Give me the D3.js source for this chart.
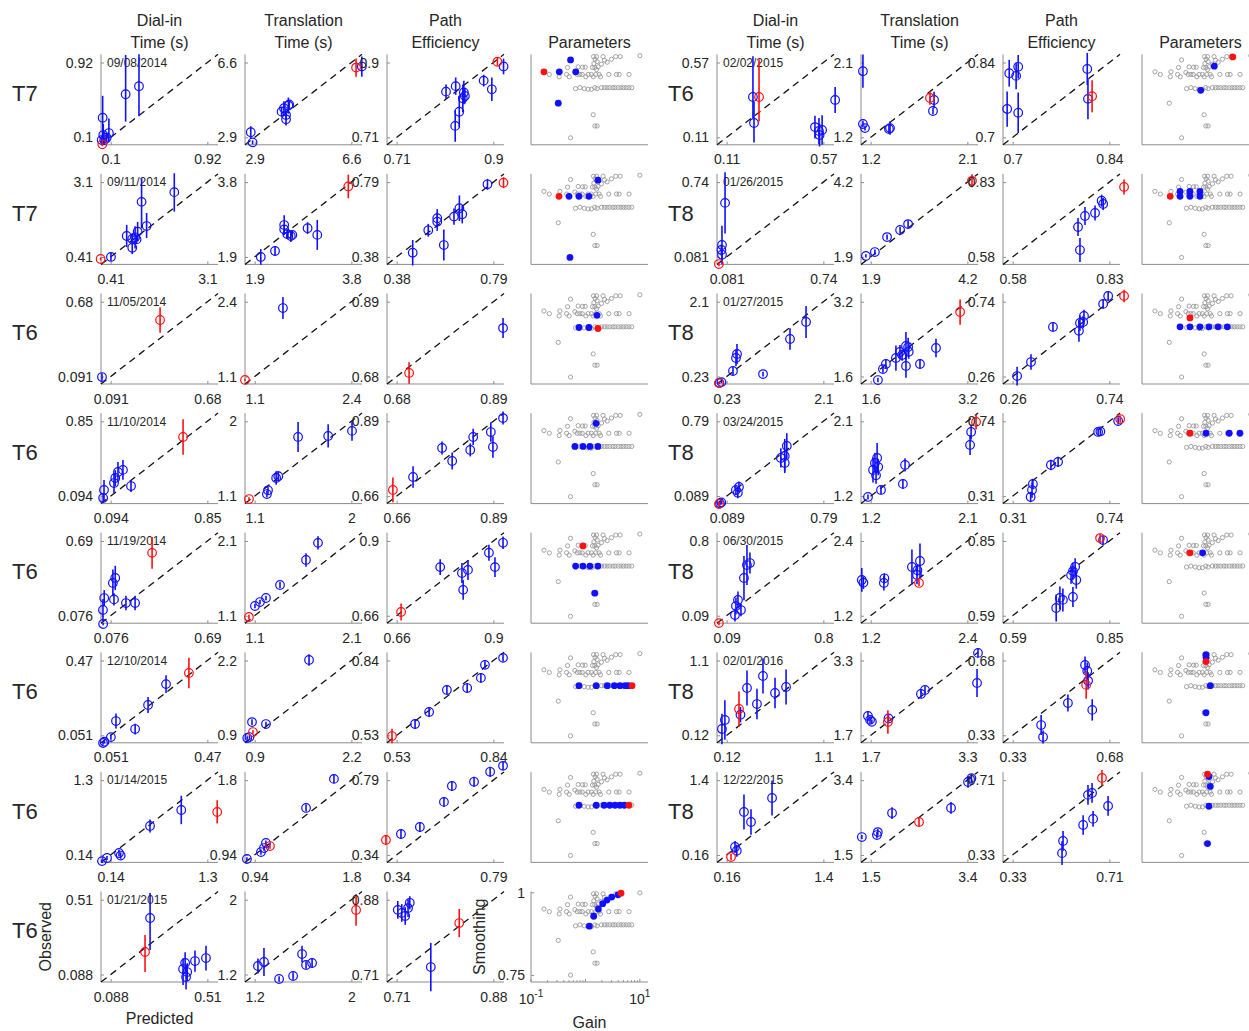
<!DOCTYPE html>
<html>
<head>
<meta charset="utf-8">
<script src="https://cdn.jsdelivr.net/npm/d3@7"></script>
<style>
  body { margin: 0; background: #fff; }
  text { font-family: "Liberation Sans", Arial, Helvetica, sans-serif; fill: #262626; }
</style>
</head>
<body>
<svg id="chart" width="1249" height="1031"></svg>
<script>
// ---------------- sessions ----------------
const leftSubjects  = ["T7", "T7", "T6", "T6", "T6", "T6", "T6", "T6"];
const leftDates     = ["09/08/2014", "09/11/2014", "11/05/2014", "11/10/2014", "11/19/2014", "12/10/2014", "01/14/2015", "01/21/2015"];
const rightSubjects = ["T6", "T8", "T8", "T8", "T8", "T8", "T8"];
const rightDates    = ["02/02/2015", "01/26/2015", "01/27/2015", "03/24/2015", "06/30/2015", "02/01/2016", "12/22/2015"];

const columnTitles = [["Dial-in", "Time (s)"], ["Translation", "Time (s)"], ["Path", "Efficiency"], ["Parameters"]];

// ---------------- tick labels (min, max) per panel ----------------
const dialInTicksLeft       = [[0.1, 0.92], [0.41, 3.1], [0.091, 0.68], [0.094, 0.85], [0.076, 0.69], [0.051, 0.47], [0.14, 1.3], [0.088, 0.51]];
const translationTicksLeft  = [[2.9, 6.6], [1.9, 3.8], [1.1, 2.4], [1.1, 2], [1.1, 2.1], [0.9, 2.2], [0.94, 1.8], [1.2, 2]];
const pathTicksLeft         = [[0.71, 0.9], [0.38, 0.79], [0.68, 0.89], [0.66, 0.89], [0.66, 0.9], [0.53, 0.84], [0.34, 0.79], [0.71, 0.88]];
const dialInTicksRight      = [[0.11, 0.57], [0.081, 0.74], [0.23, 2.1], [0.089, 0.79], [0.09, 0.8], [0.12, 1.1], [0.16, 1.4]];
const translationTicksRight = [[1.2, 2.1], [1.9, 4.2], [1.6, 3.2], [1.2, 2.1], [1.2, 2.4], [1.7, 3.3], [1.5, 3.4]];
const pathTicksRight        = [[0.7, 0.84], [0.58, 0.83], [0.26, 0.74], [0.31, 0.74], [0.59, 0.85], [0.33, 0.68], [0.33, 0.71]];

const gainTicks = [0.1, 10];
const smoothingTicks = [0.75, 1];

// ---------------- observed vs predicted ----------------
// each point: [predicted, observed, error below, error above, tested setting (1)]
const dialInLeft = [
  [[0.029,0.023,0.02,0.02,1],[0.032,0.315,0.24,0.24],[0.227,0.572,0.30,0.43],[0.34,0.66,0.33,0.35],[0.037,0.125,0.09,0.12],[0.046,0.07,0.03,0.03],[0.085,0.147,0.10,0.16],[0.066,0.096,0.04,0.04],[0.024,0.07,0.03,0.03]],
  [[0.13,0.335,0.05,0.05,1],[0.418,0.41,0.14,0.14],[0.856,1.163,0.4,0.4],[1.01,1.055,0.2,0.2],[1.01,0.74,0.23,0.23],[1.09,1.115,0.4,0.4],[1.16,1.32,0.35,0.35],[1.13,1.04,0.15,0.15],[1.27,2.39,0.95,0.85],[1.41,1.52,0.43,0.47],[2.18,2.74,0.7,0.68]],
  [[0.038,0.087,0.03,0.03],[0.392,0.536,0.1,0.1,1]],
  [[0.042,0.156,0.1,0.1],[0.035,0.075,0.04,0.04],[0.12,0.226,0.1,0.1],[0.13,0.277,0.08,0.08],[0.151,0.338,0.1,0.1],[0.19,0.359,0.1,0.1],[0.253,0.196,0.06,0.06],[0.66,0.692,0.18,0.18,1]],
  [[0.027,0.123,0.09,0.09],[0.035,0.221,0.065,0.065],[0.09,0.345,0.11,0.11],[0.105,0.386,0.1,0.1],[0.097,0.21,0.05,0.05],[0.173,0.18,0.06,0.06],[0.231,0.18,0.06,0.06],[0.028,0.008,0.01,0.01],[0.339,0.592,0.13,0.13,1]],
  [[0.018,0.008,0.01,0.01],[0.024,0.015,0.01,0.01],[0.052,0.041,0.015,0.015],[0.074,0.131,0.042,0.042],[0.157,0.086,0.03,0.03],[0.213,0.221,0.045,0.045],[0.291,0.338,0.05,0.05],[0.39,0.4,0.085,0.085,1]],
  [[0.036,0.044,0.03,0.03],[0.096,0.092,0.03,0.03],[0.24,0.17,0.05,0.05],[0.26,0.13,0.05,0.05],[0.612,0.589,0.1,0.1],[0.987,0.837,0.22,0.22],[1.418,0.806,0.18,0.18,1]],
  [[0.238,0.215,0.113,0.096,1],[0.26,0.407,0.181,0.141],[0.404,0.119,0.09,0.06],[0.413,0.153,0.06,0.06],[0.417,0.074,0.07,0.07],[0.422,0.102,0.05,0.05],[0.456,0.164,0.06,0.06],[0.504,0.181,0.07,0.07]]
];
const translationLeft = [
  [[2.75,3.15,0.3,0.3],[2.82,2.65,0.1,0.1],[3.93,4.17,0.25,0.25],[4.02,4.34,0.35,0.35],[4.10,4.00,0.2,0.2],[4.10,3.79,0.3,0.3],[4.19,4.47,0.4,0.4],[4.22,4.53,0.2,0.2],[6.78,6.35,0.45,0.45,1],[7.0,6.4,0.5,0.5]],
  [[2.02,1.9,0.2,0.2],[2.3,2.05,0.12,0.12],[2.48,2.71,0.25,0.25],[2.48,2.60,0.1,0.1],[2.54,2.48,0.12,0.12],[2.61,2.43,0.15,0.15],[2.64,2.46,0.1,0.1],[2.94,2.63,0.15,0.15],[3.13,2.46,0.38,0.38],[3.74,3.69,0.3,0.3,1]],
  [[0.97,1.04,0.02,0.02,1],[1.48,2.29,0.19,0.19]],
  [[1.047,1.065,0.02,0.02,1],[1.214,1.125,0.04,0.04],[1.224,1.17,0.04,0.04],[1.3,1.318,0.08,0.08],[1.32,1.34,0.06,0.06],[1.504,1.812,0.18,0.18],[1.784,1.824,0.14,0.14],[2.006,1.885,0.12,0.12]],
  [[1.041,1.083,0.03,0.03,1],[1.103,1.23,0.03,0.03],[1.155,1.283,0.03,0.03],[1.217,1.337,0.03,0.03],[1.362,1.511,0.04,0.04],[1.631,1.846,0.09,0.09],[1.755,2.074,0.09,0.09]],
  [[0.8,0.853,0.03,0.03],[0.83,0.87,0.03,0.03],[0.877,0.957,0.03,0.03,1],[0.864,1.13,0.05,0.05],[1.052,1.096,0.04,0.04],[1.631,2.21,0.1,0.1]],
  [[0.871,0.893,0.02,0.02],[0.996,0.973,0.03,0.03],[1.023,1.019,0.03,0.03],[1.076,1.042,0.03,0.03,1],[1.04,1.077,0.03,0.03],[1.397,1.48,0.04,0.04],[1.645,1.814,0.05,0.05]],
  [[1.227,1.291,0.08,0.08],[1.277,1.334,0.15,0.15],[1.402,1.152,0.03,0.03],[1.518,1.184,0.04,0.04],[1.592,1.419,0.09,0.09],[1.625,1.302,0.04,0.04],[1.675,1.323,0.05,0.05],[2.039,1.891,0.17,0.17,1]]
];
const pathLeft = [
  [[0.807,0.826,0.018,0.018],[0.826,0.84,0.022,0.022],[0.842,0.824,0.03,0.03],[0.84,0.809,0.035,0.035],[0.833,0.775,0.04,0.04],[0.825,0.739,0.04,0.04],[0.844,0.815,0.02,0.02],[0.881,0.854,0.015,0.015],[0.897,0.832,0.03,0.03],[0.908,0.902,0.01,0.01,1],[0.92,0.89,0.02,0.02]],
  [[0.448,0.403,0.07,0.07],[0.514,0.526,0.035,0.035],[0.552,0.592,0.05,0.05],[0.552,0.573,0.05,0.05],[0.58,0.445,0.085,0.085],[0.623,0.601,0.045,0.045],[0.646,0.647,0.07,0.07],[0.658,0.614,0.05,0.05],[0.765,0.778,0.03,0.03],[0.833,0.787,0.03,0.03,1]],
  [[0.707,0.69,0.03,0.03,1],[0.911,0.816,0.028,0.028]],
  [[0.651,0.679,0.038,0.038,1],[0.699,0.719,0.033,0.033],[0.768,0.808,0.02,0.02],[0.792,0.768,0.026,0.026],[0.835,0.802,0.02,0.02],[0.842,0.842,0.025,0.025],[0.884,0.857,0.03,0.03],[0.889,0.811,0.033,0.033],[0.913,0.9,0.02,0.02]],
  [[0.671,0.672,0.027,0.027,1],[0.768,0.816,0.025,0.025],[0.822,0.797,0.032,0.032],[0.825,0.743,0.032,0.032],[0.837,0.807,0.032,0.032],[0.889,0.862,0.026,0.026],[0.904,0.816,0.032,0.032],[0.924,0.894,0.02,0.02]],
  [[0.515,0.527,0.03,0.03,1],[0.589,0.577,0.02,0.02],[0.634,0.627,0.02,0.02],[0.691,0.718,0.02,0.02],[0.756,0.726,0.02,0.02],[0.8,0.768,0.02,0.02],[0.813,0.822,0.015,0.015],[0.871,0.851,0.015,0.015]],
  [[0.29,0.43,0.03,0.03,1],[0.36,0.466,0.03,0.03],[0.448,0.508,0.03,0.03],[0.56,0.659,0.03,0.03],[0.597,0.755,0.03,0.03],[0.7,0.78,0.03,0.03],[0.775,0.84,0.03,0.03],[0.835,0.876,0.025,0.025]],
  [[0.712,0.857,0.02,0.02],[0.719,0.85,0.02,0.02],[0.725,0.843,0.02,0.02],[0.73,0.861,0.02,0.02],[0.733,0.873,0.015,0.015],[0.77,0.727,0.055,0.055],[0.82,0.827,0.032,0.032,1]]
];
const dialInRight = [
  [[0.235,0.358,0.13,0.25],[0.24,0.198,0.12,0.13],[0.264,0.358,0.15,0.23,1],[0.53,0.173,0.07,0.07],[0.549,0.149,0.08,0.08],[0.552,0.124,0.07,0.07],[0.564,0.155,0.09,0.09],[0.626,0.34,0.08,0.08]],
  [[0.07,0.557,0.27,0.27],[0.049,0.186,0.17,0.17],[0.045,0.142,0.05,0.05],[0.049,0.1,0.05,0.05],[0.028,0.018,0.02,0.02,1]],
  [[0.08,0.067,0.03,0.03,1],[0.09,0.07,0.03,0.03],[0.13,0.09,0.03,0.03],[0.352,0.368,0.1,0.1],[0.41,0.694,0.2,0.2],[0.43,0.793,0.25,0.25],[0.933,0.291,0.06,0.06],[1.455,1.168,0.27,0.27],[1.765,1.594,0.4,0.4]],
  [[0.033,0.015,0.02,0.02,1],[0.04,0.02,0.02,0.02],[0.05,0.03,0.02,0.02],[0.156,0.146,0.05,0.05],[0.17,0.12,0.05,0.05],[0.178,0.175,0.05,0.05],[0.482,0.447,0.09,0.09],[0.51,0.465,0.16,0.16],[0.525,0.559,0.12,0.12],[0.51,0.4,0.08,0.08]],
  [[0.033,0.02,0.02,0.02,1],[0.151,0.096,0.06,0.06],[0.158,0.182,0.08,0.08],[0.173,0.239,0.08,0.08],[0.195,0.144,0.06,0.06],[0.217,0.448,0.21,0.21],[0.239,0.571,0.19,0.19],[0.261,0.59,0.1,0.1]],
  [[0.072,0.203,0.2,0.2],[0.102,0.321,0.26,0.26],[0.245,0.465,0.23,0.23,1],[0.26,0.39,0.1,0.1],[0.326,0.74,0.23,0.23],[0.427,0.53,0.2,0.2],[0.488,0.898,0.23,0.23],[0.61,0.675,0.2,0.2],[0.722,0.754,0.23,0.23]],
  [[0.216,0.125,0.05,0.05,1],[0.267,0.291,0.1,0.1],[0.29,0.23,0.1,0.1],[0.382,0.872,0.29,0.29],[0.472,0.706,0.21,0.21],[0.742,1.105,0.29,0.29]]
];
const translationRight = [
  [[1.128,1.996,0.2,0.2],[1.128,1.36,0.04,0.04],[1.147,1.311,0.03,0.03],[1.38,1.311,0.08,0.08],[1.37,1.30,0.05,0.05],[1.752,1.673,0.08,0.08,1],[1.79,1.649,0.1,0.1],[1.78,1.517,0.04,0.04]],
  [[1.786,1.93,0.05,0.05],[2.0,2.05,0.08,0.08],[2.29,2.51,0.08,0.08],[2.6,2.73,0.1,0.1],[2.79,2.91,0.12,0.12],[4.31,4.24,0.2,0.2,1]],
  [[1.72,1.525,0.05,0.05],[1.803,1.76,0.08,0.08],[1.852,1.868,0.1,0.1],[2.018,1.996,0.27,0.27],[2.085,2.125,0.15,0.15],[2.12,2.06,0.12,0.12],[2.184,2.253,0.3,0.3],[2.22,2.23,0.2,0.2],[2.23,2.13,0.15,0.15],[2.184,1.826,0.25,0.25],[2.416,1.868,0.1,0.1],[2.681,2.21,0.2,0.2],[3.08,2.98,0.27,0.27,1]],
  [[1.175,1.19,0.03,0.03],[1.222,1.515,0.15,0.15],[1.24,1.599,0.12,0.12],[1.25,1.45,0.1,0.1],[1.26,1.659,0.18,0.18],[1.27,1.55,0.1,0.1],[1.296,1.274,0.05,0.05],[1.52,1.575,0.08,0.08],[1.5,1.347,0.06,0.06],[2.125,1.816,0.12,0.12],[2.135,1.972,0.09,0.09],[2.181,2.093,0.09,0.09,1]],
  [[1.09,1.774,0.19,0.19],[1.11,1.73,0.1,0.1],[1.364,1.726,0.12,0.12],[1.37,1.8,0.08,0.08],[1.712,1.982,0.28,0.28],[1.775,1.853,0.15,0.15],[1.78,1.93,0.1,0.1],[1.812,2.078,0.28,0.28],[1.8,1.726,0.05,0.05,1]],
  [[1.655,2.114,0.1,0.1],[1.69,2.03,0.08,0.08],[1.72,1.99,0.05,0.05],[1.985,1.985,0.25,0.25,1],[1.995,2.06,0.08,0.08],[2.532,2.585,0.08,0.08],[2.599,2.67,0.08,0.08],[3.476,3.463,0.1,0.1],[3.46,2.82,0.3,0.3]],
  [[1.327,1.954,0.05,0.05],[1.623,2.005,0.08,0.08],[1.64,2.08,0.08,0.08],[1.92,2.564,0.15,0.15],[2.45,2.336,0.1,0.1,1],[3.079,2.693,0.15,0.15],[3.413,3.354,0.15,0.15],[3.48,3.45,0.1,0.1]]
];
const pathRight = [
  [[0.692,0.753,0.033,0.033],[0.695,0.82,0.025,0.025],[0.705,0.815,0.025,0.025],[0.708,0.832,0.022,0.022],[0.708,0.746,0.038,0.038],[0.808,0.828,0.03,0.03],[0.809,0.772,0.038,0.038],[0.815,0.777,0.03,0.03,1]],
  [[0.868,0.814,0.025,0.025,1],[0.814,0.757,0.02,0.02],[0.81,0.768,0.02,0.02],[0.767,0.717,0.03,0.03],[0.793,0.727,0.025,0.025],[0.749,0.68,0.03,0.03],[0.754,0.603,0.04,0.04]],
  [[0.282,0.263,0.06,0.06],[0.351,0.353,0.05,0.05],[0.46,0.578,0.03,0.03],[0.589,0.553,0.07,0.07],[0.594,0.604,0.05,0.05],[0.614,0.649,0.04,0.04],[0.61,0.61,0.04,0.04],[0.709,0.726,0.03,0.03],[0.734,0.777,0.03,0.03],[0.813,0.777,0.04,0.04,1]],
  [[0.396,0.345,0.045,0.045],[0.39,0.305,0.03,0.03],[0.40,0.38,0.03,0.03],[0.48,0.489,0.03,0.03],[0.512,0.507,0.03,0.03],[0.69,0.679,0.02,0.02],[0.70,0.682,0.02,0.02],[0.779,0.742,0.02,0.02],[0.788,0.753,0.02,0.02,1]],
  [[0.707,0.617,0.047,0.047],[0.717,0.652,0.04,0.04],[0.725,0.645,0.04,0.04],[0.752,0.655,0.035,0.035],[0.747,0.731,0.03,0.03],[0.752,0.745,0.03,0.03],[0.758,0.76,0.03,0.03],[0.761,0.714,0.03,0.03],[0.825,0.86,0.015,0.015,1],[0.833,0.853,0.015,0.015]],
  [[0.433,0.378,0.047,0.047],[0.44,0.322,0.03,0.03],[0.53,0.481,0.04,0.04],[0.592,0.659,0.04,0.04],[0.6,0.631,0.04,0.04],[0.618,0.449,0.05,0.05],[0.596,0.566,0.065,0.065,1],[0.603,0.585,0.04,0.04]],
  [[0.524,0.339,0.06,0.06],[0.528,0.401,0.05,0.05],[0.607,0.482,0.05,0.05],[0.646,0.513,0.04,0.04],[0.626,0.635,0.05,0.05],[0.642,0.645,0.05,0.05],[0.705,0.579,0.05,0.05],[0.681,0.721,0.04,0.04,1]]
];

// ---------------- parameter space (gain, smoothing) ----------------
const gridGain = [0.533,1.41,1.60,1.51,1.64,1.43,2.11,2.24,2.51,1.97,3.01,3.61,4.34,10.0,
  0.470,0.736,0.885,0.991,1.35,1.49,1.60,1.71,
  0.173,0.217,0.340,0.330,0.451,0.504,0.640,0.706,0.791,0.873,1.02,1.12,1.29,1.39,1.55,1.79,1.89,2.69,3.72,4.16,6.34,
  0.658,0.791,0.948,1.12,1.29,1.49,1.64,1.97,2.24,2.5,2.8,3.2,3.5,4.0,4.5,5.0,5.6,6.3,7.1,
  0.317,1.39,1.49,1.64,0.533];
const gridSmoothing = [0.987,0.997,0.997,0.989,0.982,0.976,0.997,0.986,0.980,0.974,0.989,0.997,0.997,1.0,
  0.964,0.966,0.965,0.965,0.964,0.964,0.958,0.966,
  0.951,0.943,0.951,0.936,0.943,0.936,0.949,0.943,0.943,0.943,0.936,0.943,0.943,0.936,0.943,0.943,0.936,0.943,0.943,0.943,0.943,
  0.900,0.903,0.900,0.898,0.898,0.903,0.900,0.903,0.903,0.903,0.903,0.903,0.903,0.903,0.903,0.903,0.903,0.903,0.903,
  0.856,0.821,0.787,0.787,0.751];

// settings tested in each session: [gain, smoothing, tested first (1)]
const settingsLeft = [
  [[0.533,0.987],[0.331,0.951],[0.664,0.951],[0.317,0.856],[0.173,0.951,1]],
  [[0.50,0.936],[0.76,0.936],[1.16,0.936],[1.70,0.985],[0.52,0.751],[0.327,0.936,1]],
  [[0.76,0.901],[1.16,0.901],[1.63,0.938],[1.70,0.898,1]],
  [[0.64,0.903],[0.90,0.903],[1.21,0.903],[1.70,0.903],[1.57,0.973]],
  [[0.66,0.903],[0.90,0.903],[1.21,0.903],[1.70,0.903],[1.49,0.821],[0.90,0.964,1]],
  [[0.76,0.903],[1.58,0.903],[2.52,0.903],[3.40,0.903],[4.32,0.903],[5.35,0.903],[6.14,0.903],[7.18,0.903,1]],
  [[0.76,0.903],[1.58,0.903],[2.2,0.903],[2.8,0.903],[3.5,0.903],[4.3,0.903],[5.2,0.903],[6.3,0.903,1]],
  [[1.18,0.899],[1.42,0.929],[1.73,0.951],[2.08,0.967],[2.49,0.978],[3.04,0.987],[3.97,0.994],[4.51,0.999,1]]
];
const settingsRight = [
  [[2.13,0.968],[1.20,0.895],[4.65,0.996,1]],
  [[0.5,0.951],[0.76,0.951],[1.16,0.951],[0.5,0.936],[0.76,0.936],[1.16,0.936],[0.33,0.936,1]],
  [[0.5,0.903],[0.76,0.903],[1.16,0.903],[1.7,0.903],[2.5,0.903],[3.7,0.903],[0.76,0.93,1]],
  [[1.5,0.943],[4.0,0.943],[6.3,0.943],[0.76,0.943,1]],
  [[1.3,0.943],[0.76,0.943,1]],
  [[1.5,0.997],[1.5,0.989],[1.8,0.903],[1.5,0.821],[1.5,0.976,1]],
  [[1.7,0.99],[1.8,0.96],[1.7,0.90],[1.6,0.787],[1.6,0.997,1]]
];

// ---------------- layout ----------------
const svg = d3.select("#chart");
const W = 117, H = 90.5;
const colLeft = [101, 245, 387, 531];
const colRight = [717, 861, 1003, 1142];
const rowTop = i => 54.3 + 119.6 * i;
const AXIS = "#8c8c8c", BLUE = "#1010ff", RED = "#ff1010";

function titles(cols) {
  cols.forEach((x, c) => {
    const lines = columnTitles[c];
    lines.forEach((t, k) => {
      const y = lines.length === 1 ? 48 : 26 + 22 * k;
      svg.append("text").attr("x", x + W / 2).attr("y", y)
        .attr("text-anchor", "middle").attr("font-size", 16).text(t);
    });
  });
}

function axesFrame(g) {
  g.append("line").attr("x1", 0).attr("x2", W).attr("y1", H).attr("y2", H).attr("stroke", AXIS);
  g.append("line").attr("x1", 0).attr("x2", 0).attr("y1", 0).attr("y2", H).attr("stroke", AXIS);
}

function scatterPanel(x0, y0, ticks, pts, date) {
  const [lo, hi] = ticks, r = hi - lo;
  const dom = [lo - 0.1 * r, hi + 0.11 * r];
  const sx = d3.scaleLinear().domain(dom).range([0, W]);
  const sy = d3.scaleLinear().domain(dom).range([H, 0]);
  const g = svg.append("g").attr("transform", `translate(${x0},${y0})`);
  axesFrame(g);

  // ticks, pointing inward
  const ax = d3.axisBottom(sx).tickValues(ticks).tickSize(-3).tickPadding(12).tickFormat(d3.format(""));
  const ay = d3.axisLeft(sy).tickValues(ticks).tickSize(-3).tickPadding(8).tickFormat(d3.format(""));
  const gx = g.append("g").attr("transform", `translate(0,${H})`).call(ax);
  const gy = g.append("g").call(ay);
  [gx, gy].forEach(a => {
    a.select(".domain").remove();
    a.selectAll("line").attr("stroke", AXIS);
    a.selectAll("text").attr("font-size", 14).attr("fill", "#262626")
      .attr("font-family", '"Liberation Sans", Arial, sans-serif');
  });
  gx.selectAll("text").attr("dy", "0.55em");

  // identity line
  g.append("line").attr("x1", sx(dom[0])).attr("y1", sy(dom[0]))
    .attr("x2", sx(dom[1])).attr("y2", sy(dom[1]))
    .attr("stroke", "#111").attr("stroke-width", 1.3).attr("stroke-dasharray", "7,5");

  if (date) {
    g.append("text").attr("x", 6).attr("y", sy(hi)).attr("dy", "0.35em")
      .attr("font-size", 12).text(date);
  }

  const order = pts.slice().sort((a, b) => (a[4] || 0) - (b[4] || 0));
  const pg = g.selectAll("g.pt").data(order).join("g").attr("class", "pt");
  pg.append("line")
    .attr("x1", d => sx(d[0])).attr("x2", d => sx(d[0]))
    .attr("y1", d => sy(d[1] - d[2])).attr("y2", d => sy(d[1] + d[3]))
    .attr("stroke", d => d[4] ? RED : BLUE).attr("stroke-width", 1.6);
  pg.append("circle")
    .attr("cx", d => sx(d[0])).attr("cy", d => sy(d[1])).attr("r", 4.3)
    .attr("fill", "none").attr("stroke", d => d[4] ? RED : BLUE).attr("stroke-width", 1.2);
}

const gainScale = d3.scaleLog().domain([0.1, Math.pow(10, 1.15)]).range([0, W]);
const smoothScale = d3.scaleLinear().domain([0.73, 1.004]).range([H, 0]);

function paramPanel(x0, y0, chosen, labelled) {
  const g = svg.append("g").attr("transform", `translate(${x0},${y0})`);
  axesFrame(g);
  const grid = gridGain.map((v, i) => [v, gridSmoothing[i]]);
  g.selectAll("circle.grid").data(grid).join("circle").attr("class", "grid")
    .attr("cx", d => gainScale(d[0])).attr("cy", d => smoothScale(d[1])).attr("r", 2.1)
    .attr("fill", "none").attr("stroke", "#9a9a9a").attr("stroke-width", 0.9);
  const order = chosen.slice().sort((a, b) => (a[2] || 0) - (b[2] || 0));
  g.selectAll("circle.sel").data(order).join("circle").attr("class", "sel")
    .attr("cx", d => gainScale(d[0])).attr("cy", d => smoothScale(d[1])).attr("r", 3.4)
    .attr("fill", d => d[2] ? RED : BLUE).attr("stroke", "none");

  if (labelled) {
    // log minor ticks along gain axis
    const minor = [];
    for (let e = -1; e <= 1; e++) for (let m = 1; m <= 9; m++) {
      const v = m * Math.pow(10, e);
      if (v <= Math.pow(10, 1.15)) minor.push(v);
    }
    g.selectAll("line.mt").data(minor).join("line").attr("class", "mt")
      .attr("x1", d => gainScale(d)).attr("x2", d => gainScale(d))
      .attr("y1", H).attr("y2", d => (d === 0.1 || d === 1 || d === 10) ? H - 3 : H - 1.8)
      .attr("stroke", AXIS);
    g.selectAll("line.yt").data(smoothingTicks).join("line").attr("class", "yt")
      .attr("x1", 0).attr("x2", 3).attr("y1", d => smoothScale(d)).attr("y2", d => smoothScale(d))
      .attr("stroke", AXIS);
    g.selectAll("text.yl").data(smoothingTicks).join("text").attr("class", "yl")
      .attr("x", -6).attr("y", d => smoothScale(d)).attr("dy", "0.35em")
      .attr("text-anchor", "end").attr("font-size", 14).text(d => d);
    gainTicks.forEach(v => {
      const t = g.append("text").attr("x", gainScale(v)).attr("y", H + 22)
        .attr("text-anchor", "middle").attr("font-size", 14);
      t.append("tspan").text("10");
      t.append("tspan").attr("dy", -7).attr("font-size", 10).text(Math.round(Math.log10(v)));
    });
    svg.append("text").attr("x", x0 + W / 2).attr("y", y0 + H + 46)
      .attr("text-anchor", "middle").attr("font-size", 16).text("Gain");
    svg.append("text").attr("transform", `translate(${x0 - 46},${y0 + H / 2}) rotate(-90)`)
      .attr("text-anchor", "middle").attr("font-size", 16).text("Smoothing");
  }
}

function group(cols, subjects, dates, dTicks, tTicks, pTicks, dPts, tPts, pPts, settings, labelX) {
  titles(cols);
  subjects.forEach((s, i) => {
    const y0 = rowTop(i);
    svg.append("text").attr("x", labelX).attr("y", y0 + 39).attr("dy", "0.35em")
      .attr("font-size", 22).text(s);
    scatterPanel(cols[0], y0, dTicks[i], dPts[i], dates[i]);
    scatterPanel(cols[1], y0, tTicks[i], tPts[i]);
    scatterPanel(cols[2], y0, pTicks[i], pPts[i]);
    paramPanel(cols[3], y0, settings[i], i === subjects.length - 1 && labelX < 100);
  });
}

group(colLeft, leftSubjects, leftDates, dialInTicksLeft, translationTicksLeft, pathTicksLeft,
  dialInLeft, translationLeft, pathLeft, settingsLeft, 12);
group(colRight, rightSubjects, rightDates, dialInTicksRight, translationTicksRight, pathTicksRight,
  dialInRight, translationRight, pathRight, settingsRight, 668);

// shared axis titles on the bottom-left panel
const lastTop = rowTop(leftSubjects.length - 1);
svg.append("text").attr("transform", `translate(51,${lastTop + H / 2}) rotate(-90)`)
  .attr("text-anchor", "middle").attr("font-size", 16).text("Observed");
svg.append("text").attr("x", colLeft[0] + W / 2).attr("y", lastTop + H + 42)
  .attr("text-anchor", "middle").attr("font-size", 16).text("Predicted");
</script>
</body>
</html>
